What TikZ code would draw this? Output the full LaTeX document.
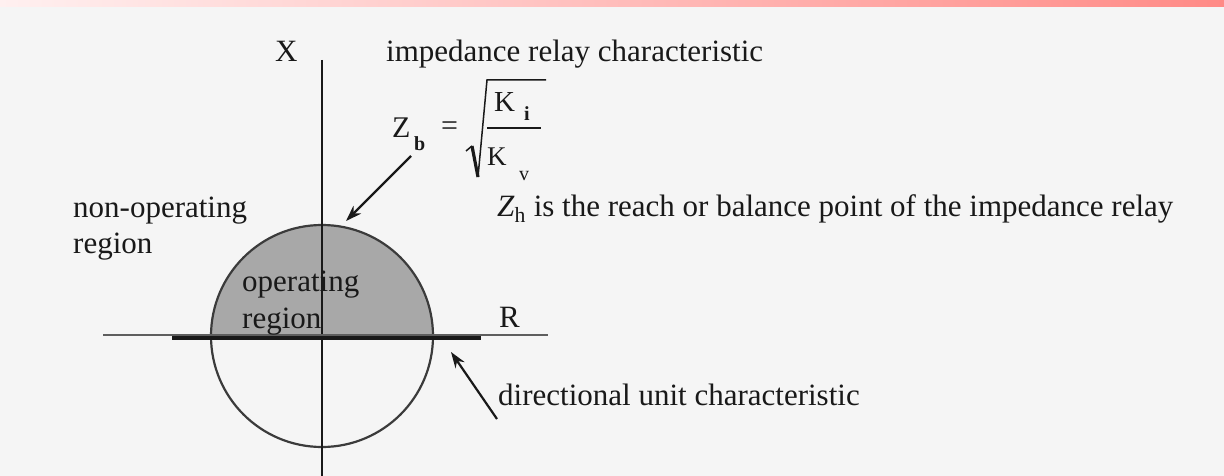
\documentclass[tikz,border=0pt]{standalone}
\usepackage{fontspec}
\setmainfont{Liberation Serif}
\usetikzlibrary{arrows.meta}
\definecolor{bg}{RGB}{245,245,245}
\definecolor{barL}{RGB}{255,240,240}
\definecolor{barR}{RGB}{255,138,134}
\definecolor{opfill}{RGB}{168,168,168}
\definecolor{ink}{RGB}{25,25,25}
\begin{document}
\begin{tikzpicture}[x=1pt,y=-1pt,
  txt/.style={inner sep=0pt, anchor=base west, text=ink, font=\fontsize{31}{37}\selectfont},
  small/.style={inner sep=0pt, anchor=base west, text=ink, font=\fontsize{20}{24}\selectfont\bfseries},
  axis/.style={draw=ink, line width=2.5pt},
  pointer/.style={draw=ink, line width=2.2pt, -{Stealth[length=16pt,width=11pt]}}]
\useasboundingbox (0,0) rectangle (1224,476);
\fill[bg] (0,0) rectangle (1224,476);
\shade[left color=barL, right color=barR] (0,0) rectangle (1224,7);
% operating region (upper half of circle)
\begin{scope}
  \clip (0,0) rectangle (1224,336);
  \fill[opfill] (322,336) circle[radius=111];
\end{scope}
\draw[ink!85, line width=2.2pt] (322,336) circle[radius=111];
% axes
\coordinate (xtop) at (322,60);
\coordinate (xbot) at (322,476);
\coordinate (rl) at (103,335);
\coordinate (rr) at (548,335);
\draw[axis] (xtop) -- (xbot);
\draw[draw=ink!70, line width=2.5pt] (rl) -- (rr);
% directional unit characteristic
\coordinate (dl) at (172,338);
\coordinate (dr) at (481,338);
\draw[draw=ink, line width=4pt] (dl) -- (dr);
% labels
\node[txt] (xlab) at (275,62) {X};
\node[txt] (rlab) at (499,327) {R};
\node[txt] (title) at (386,62) {impedance relay characteristic};
\node[txt] (nonop) at (73,217) {non-operating};
\node[txt] (nonop2) at (73,253) {region};
\node[txt] (op1) at (242,291) {operating};
\node[txt] (op2) at (242,328) {region};
\node[txt] (reach) at (497,216) {\textit{Z}\textsubscript{h} is the reach or balance point of the impedance relay};
\node[txt] (dir) at (498,405) {directional unit characteristic};
% formula Zb = sqrt(Ki/Kv)
\node[txt, font=\fontsize{30}{36}\selectfont] (zb) at (392,138) {Z};
\node[small] (zbsub) at (414,151) {b};
\node[txt, font=\fontsize{30}{36}\selectfont] (eq) at (441,136) {=};
\node[txt, font=\fontsize{29}{34}\selectfont] (ki) at (494,112) {K};
\node[small] (kisub) at (524,121) {i};
\node[txt, font=\fontsize{27}{32}\selectfont] (kv) at (487,166) {K};
\node[small, font=\fontsize{20}{24}\selectfont] (kvsub) at (519,180) {v};
\draw[ink, line width=1.6pt] (487,128) -- (541,128);
\draw[ink, line width=1.5pt, line join=miter] (466,151) -- (472,146);
\draw[ink, line width=3.2pt] (472,146) -- (478,177);
\draw[ink, line width=1.5pt, line join=miter] (478,177) -- (487,80) -- (546,80);
% pointers
\coordinate (ztail) at (411,156);
\coordinate (ztip) at (346,221);
\draw[pointer] (ztail) -- (ztip);
\coordinate (dtail) at (497,419);
\coordinate (dtip) at (451,352);
\draw[pointer] (dtail) -- (dtip);
\end{tikzpicture}
\end{document}
